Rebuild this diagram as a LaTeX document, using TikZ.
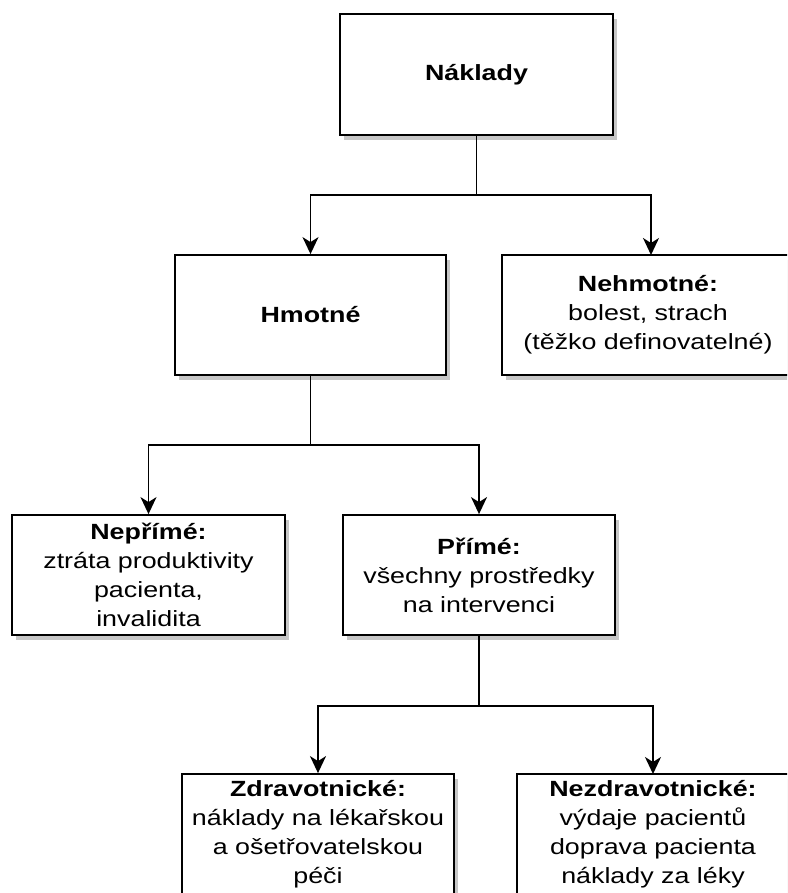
\documentclass[tikz,border=0pt]{standalone}
\usepackage{fontspec}
\setmainfont{Liberation Sans}[FakeStretch=1.22]
\usetikzlibrary{arrows.meta,shadows}
\begin{document}
\begin{tikzpicture}[x=1pt,y=-1pt,
  txt/.style={inner sep=0pt,align=center,font=\fontsize{22}{29}\selectfont},
  box/.style={txt,draw=black,line width=1.8pt,fill=white,minimum width=#1,minimum height=120pt,
    drop shadow={shadow xshift=4pt,shadow yshift=-5pt,fill=black!22,opacity=1}},
  box/.default=272pt,
  conn/.style={line width=1.8pt,draw=black},
  arr/.style={conn,-{Stealth[length=17pt,width=16pt,inset=5pt]}}]
\useasboundingbox (0,0) rectangle (787,893);
\clip (0,0) rectangle (787,893);
\fill[white] (0,0) rectangle (787,893);
\node[box=273pt,minimum height=121pt] (nak) at (476.5,74.5) {\textbf{Náklady}};
\node[box=271pt] (hm) at (310.5,315) {\textbf{Hmotné}};
\node[box=340pt] (neh) at (672,315) {};
\node[txt] (nehT) at (648,315) {\textbf{Nehmotné:}\\bolest, strach\\(těžko definovatelné)};
\node[box=273pt] (nep) at (148.5,575) {\textbf{Nepřímé:}\\ztráta produktivity\\pacienta,\\invalidita};
\node[box=272pt] (pri) at (479,575) {\textbf{Přímé:}\\všechny prostředky\\na intervenci};
\node[box=272pt] (zdr) at (318,834) {\textbf{Zdravotnické:}\\náklady na lékařskou\\a ošetřovatelskou\\péči};
\node[box=320pt] (nez) at (677,834) {};
\node[txt] (nezT) at (653,834) {\textbf{Nezdravotnické:}\\výdaje pacientů\\doprava pacienta\\náklady za léky};
\coordinate (j1) at (476.5,195);
\coordinate (j2) at (310.5,445);
\coordinate (j3) at (479,706);
\coordinate (nehTop) at (651,255);
\coordinate (nezTop) at (653,774);
\draw[conn] (nak.south) -- (j1);
\draw[arr] (j1) -| (hm.north);
\draw[arr] (j1) -| (nehTop);
\draw[conn] (hm.south) -- (j2);
\draw[arr] (j2) -| (nep.north);
\draw[arr] (j2) -| (pri.north);
\draw[conn] (pri.south) -- (j3);
\draw[arr] (j3) -| (zdr.north);
\draw[arr] (j3) -| (nezTop);
\end{tikzpicture}
\end{document}
